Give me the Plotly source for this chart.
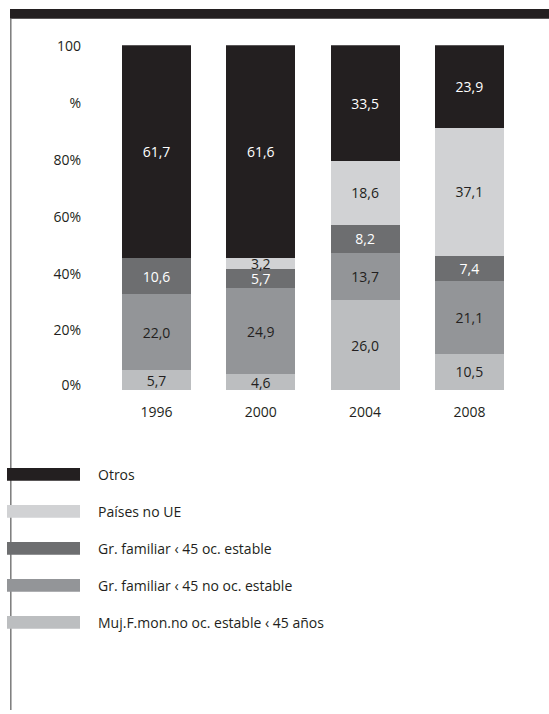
import plotly.graph_objects as go

years = ["1996", "2000", "2004", "2008"]

muj_fmon = [5.7, 4.6, 26.0, 10.5]
gr_no_oc = [22.0, 24.9, 13.7, 21.1]
gr_oc = [10.6, 5.7, 8.2, 7.4]
paises_no_ue = [None, 3.2, 18.6, 37.1]
otros = [61.7, 61.6, 33.5, 23.9]

y_tick_vals = [1.4, 17.4, 33.6, 50.1, 66.8, 83.3, 99.7]
y_tick_text = ["0%", "20%", "40%", "60%", "80%", "%", "100"]

# bottom to top in the stack
series = [
    ("Muj.F.mon.no oc. estable ‹ 45 años", muj_fmon, "#bcbec0", "#231f20"),
    ("Gr. familiar ‹ 45 no oc. estable", gr_no_oc, "#939598", "#231f20"),
    ("Gr. familiar ‹ 45 oc. estable", gr_oc, "#6d6e70", "#ffffff"),
    ("Países no UE", paises_no_ue, "#d1d2d4", "#231f20"),
    ("Otros", otros, "#231f20", "#ffffff"),
]

FONT = "Open Sans"
W, H = 549, 714

fig = go.Figure()
for name, vals, color, txt in series:
    fig.add_trace(
        go.Bar(
            x=list(range(len(years))),
            y=vals,
            name=name,
            width=0.66,
            marker=dict(color=color, line=dict(width=0)),
            texttemplate="%{y:.1f}",
            textposition="inside",
            insidetextanchor="middle",
            textfont=dict(family=FONT, size=14, color=txt),
            showlegend=False,
            hoverinfo="skip",
        )
    )

# plot area: bars from y=388px (0) to y=37px (100)
y0 = (H - 388) / H
y1 = (H - 37) / H
x_left_px = 88
spacing = 104.3
center0 = 156.5
x_range = [(x_left_px - center0) / spacing, (W - center0) / spacing]

shapes = [
    dict(type="rect", xref="paper", yref="paper", x0=10 / W, x1=1, y0=(H - 10) / H, y1=1,
         fillcolor="#231f20", line=dict(width=0), layer="above"),
    dict(type="line", xref="paper", yref="paper", x0=10.8 / W, x1=10.8 / W, y0=0, y1=(H - 10) / H,
         line=dict(color="#7a7a7a", width=1.5)),
]
annotations = []

legend_order = [series[4], series[3], series[2], series[1], series[0]]
for i, (name, _, color, _) in enumerate(legend_order):
    cy = 474 + i * 37.7
    shapes.append(
        dict(type="rect", xref="paper", yref="paper",
             x0=7 / W, x1=80 / W, y0=(H - cy - 6.5) / H, y1=(H - cy + 6.5) / H,
             fillcolor=color, line=dict(width=0), layer="above")
    )
    annotations.append(
        dict(xref="paper", yref="paper", x=96 / W, y=(H - cy) / H, text=name,
             showarrow=False, xanchor="left", yanchor="middle",
             font=dict(family=FONT, size=14, color="#231f20"))
    )

fig.update_layout(
    width=W,
    height=H,
    barmode="stack",
    separators=",.",
    paper_bgcolor="#ffffff",
    plot_bgcolor="#ffffff",
    margin=dict(l=0, r=0, t=0, b=0),
    uniformtext=dict(minsize=14, mode="show"),
    shapes=shapes,
    annotations=annotations,
    font=dict(family=FONT, size=14, color="#231f20"),
    xaxis=dict(
        domain=[x_left_px / W, 1],
        range=x_range,
        tickvals=list(range(len(years))),
        ticktext=years,
        showgrid=False,
        zeroline=False,
        showline=False,
        ticks="",
        ticklabelstandoff=12,
        tickfont=dict(family=FONT, size=14, color="#231f20"),
    ),
    yaxis=dict(
        domain=[y0, y1],
        range=[0, 100],
        tickvals=y_tick_vals,
        ticktext=y_tick_text,
        showgrid=False,
        zeroline=False,
        showline=False,
        ticks="",
        ticklabelstandoff=6,
        tickfont=dict(family=FONT, size=14, color="#231f20"),
    ),
)

fig.write_html(
    "out.html",
    config={"displayModeBar": False},
    post_script=(
        "document.documentElement.style.margin='0';"
        "document.body.style.margin='0';"
        "document.documentElement.style.overflow='hidden';"
        "document.body.style.overflow='hidden';"
    ),
)
